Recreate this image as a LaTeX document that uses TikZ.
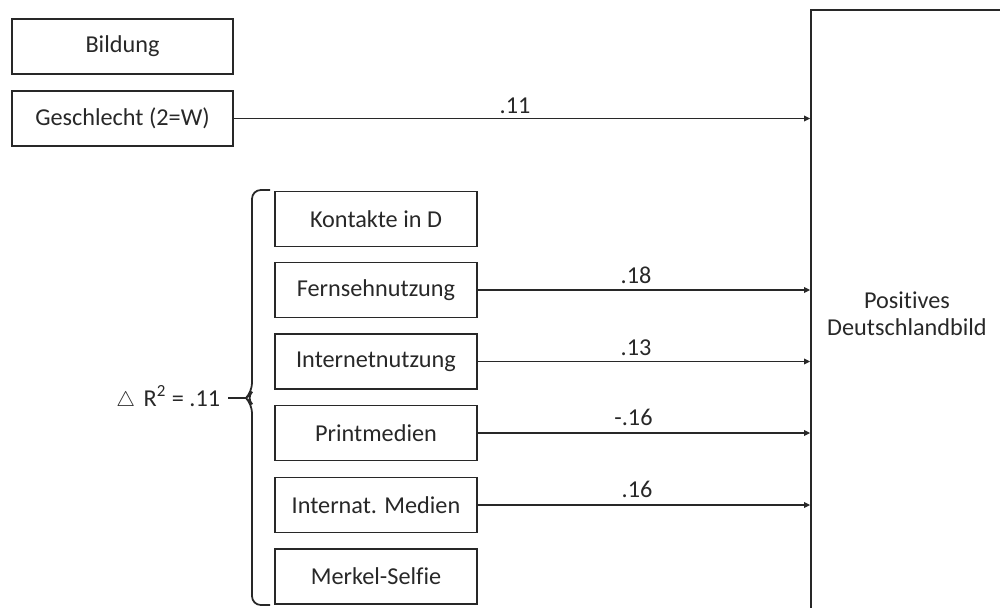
\documentclass[tikz,border=0pt]{standalone}
\usepackage{fontspec}
\setmainfont{Carlito}[Ligatures = NoCommon]
\usetikzlibrary{arrows.meta}
\definecolor{linegray}{RGB}{40,40,40}

\begin{document}
\begin{tikzpicture}[x = 0.02cm, y = -0.02cm, line width = 1pt, color = linegray,
        every node/.style = {font = \fontsize{13.8}{15.5}\selectfont},
        varbox/.style = {draw, minimum height = 1.1cm, inner sep = 0pt},
        leftbox/.style = {varbox, minimum width = 4.42cm},
        rightbox/.style = {varbox, minimum width = 4.04cm},
        effect/.style = {-{Triangle[length = 3.5pt, width = 3.2pt]}},
        coef/.style = {anchor = base, inner sep = 0pt}]
        \useasboundingbox (0,0) rectangle (1000,608);
        \clip (0,0) rectangle (1000,608);
        \node[leftbox] (bildung) at (122.5,46.5) {Bildung};
        \node[leftbox] (geschlecht) at (122.5,118.5) {Geschlecht (2=W)};
        \node[rightbox] (kontakte) at (376,219) {Kontakte in D};
        \node[rightbox] (fernsehen) at (376,290) {Fernsehnutzung};
        \node[rightbox] (internet) at (376,361.5) {Internetnutzung};
        \node[rightbox] (print) at (376,433) {Printmedien};
        \node[rightbox] (internat) at (376,505) {Internat. Medien};
        \node[rightbox] (merkel) at (376,576.5) {Merkel-Selfie};
        \node[draw, align = center, inner sep = 0pt, minimum width = 3.84cm, minimum height = 12.16cm] (bild) at (907,314) {Positives\\Deutschlandbild};
        \draw[effect] (geschlecht.east) -- (geschlecht.east -| bild.west);
        \draw[effect] (fernsehen.east) -- (fernsehen.east -| bild.west);
        \draw[effect] (internet.east) -- (internet.east -| bild.west);
        \draw[effect] (print.east) -- (print.east -| bild.west);
        \draw[effect] (internat.east) -- (internat.east -| bild.west);
        \node[coef] (bgeschlecht) at (515,113) {.11};
        \node[coef] (bfernsehen) at (636,283) {.18};
        \node[coef] (binternet) at (636,355) {.13};
        \node[coef] (bprint) at (633.5,425) {-.16};
        \node[coef] (binternat) at (637,497) {.16};
        \draw[rounded corners = 5] (270,190) -- (252,190) -- (252,392) -- (246,398) -- (252,404) -- (252,605) -- (270,605);
        \coordinate (tip) at (246,398);
        \node[anchor = east, inner sep = 0pt, outer xsep = 4.5pt] (rsq) at (228,398) {{\fontsize{13}{13}\selectfont$\triangle$}\hspace{0.35em}R\textsuperscript{2} = .11};
        \draw (rsq.east) -- (tip);
    \end{tikzpicture}
\end{document}
